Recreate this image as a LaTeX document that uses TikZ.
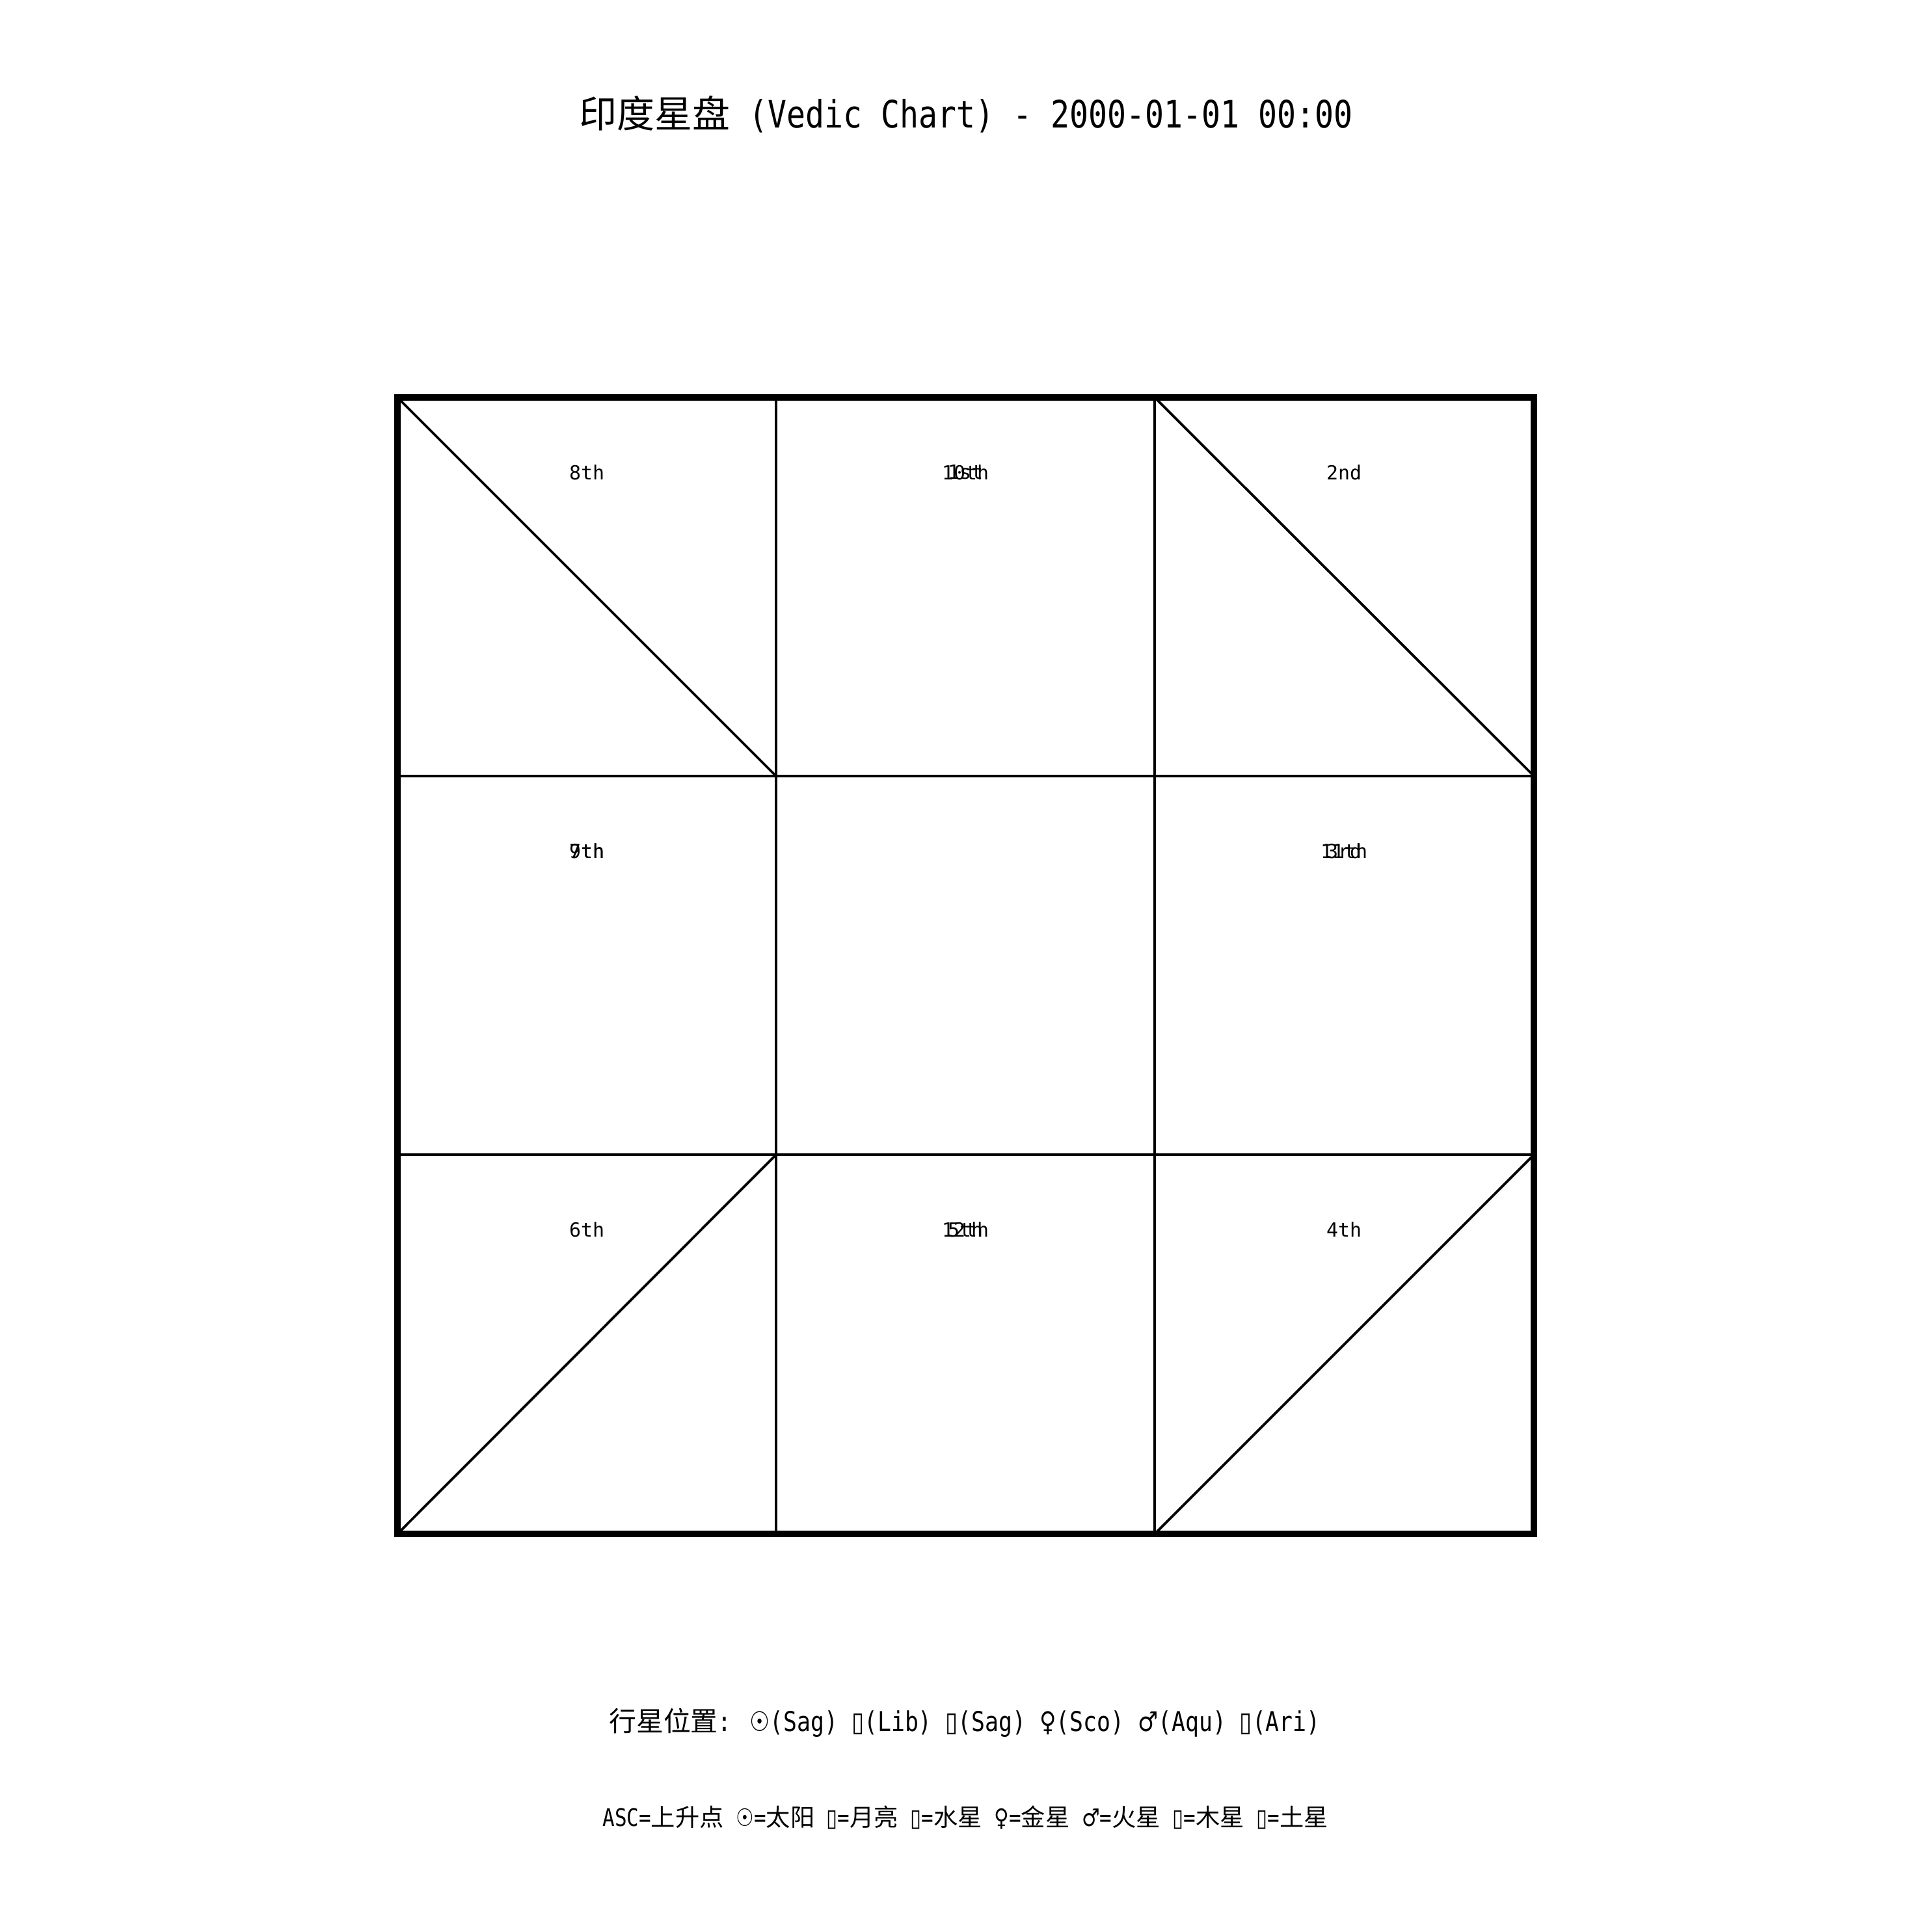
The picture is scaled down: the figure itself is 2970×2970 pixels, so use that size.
\documentclass[tikz,border=0pt]{standalone}
\usepackage{fontspec}
\setmainfont{DejaVu Sans Mono}
\newfontfamily\cjk{Noto Sans CJK SC}
\newfontfamily\lat[FakeStretch=0.83]{DejaVu Sans Mono}
\newfontfamily\hmono{DejaVu Sans Mono}
\newfontfamily\sym[FakeStretch=0.83]{DejaVu Sans}
\begin{document}
\begin{tikzpicture}[x=0.01cm,y=-0.01cm,
  outer/.style={line width=2.6pt},
  inner/.style={line width=1.1pt},
  hlabel/.style={font=\hmono\fontsize{8.5pt}{10pt}\selectfont, inner sep=0pt},
  ttl/.style={font=\fontsize{16.5pt}{20pt}\selectfont, inner sep=0pt},
  leg/.style={font=\fontsize{11.9pt}{14pt}\selectfont, inner sep=0pt},
  leg2/.style={font=\fontsize{10.6pt}{13pt}\selectfont, inner sep=0pt}]
\fill[white] (0,0) rectangle (2970,2970);
\useasboundingbox (0,0) rectangle (2970,2970);
% grid
\coordinate (A) at (611,611);
\coordinate (B) at (2358,2358);
\draw[inner] (1193,611) -- (1193,2358);
\draw[inner] (1775,611) -- (1775,2358);
\draw[inner] (611,1193) -- (2358,1193);
\draw[inner] (611,1775) -- (2358,1775);
% diagonals
\draw[inner] (611,611) -- (1193,1193);
\draw[inner] (1775,611) -- (2358,1193);
\draw[inner] (611,2358) -- (1193,1775);
\draw[inner] (1775,2358) -- (2358,1775);
\draw[outer] (A) rectangle (B);
% house labels
\node[hlabel] (h8) at (902,726) {8th};
\node[hlabel] (h1) at (1484,726) {1st};
\node[hlabel] (h10) at (1484,726) {10th};
\node[hlabel] (h2) at (2066,726) {2nd};
\node[hlabel] (h9) at (902,1308) {9th};
\node[hlabel] (h7) at (902,1308) {7th};
\node[hlabel] (h11) at (2066,1308) {11th};
\node[hlabel] (h3) at (2066,1308) {3rd};
\node[hlabel] (h6) at (902,1890) {6th};
\node[hlabel] (h12) at (1484,1890) {12th};
\node[hlabel] (h5) at (1484,1890) {5th};
\node[hlabel] (h4) at (2066,1890) {4th};
% title
\node[ttl] (title) at (1485,176) {{\cjk 印度星盘}{\lat\ (Vedic Chart) - 2000-01-01 00:00}};
% legend lines
\node[leg] (pos) at (1483,2648) {{\cjk 行星位置}{\lat: }{\sym ☉}{\lat(Sag) }{\sym ▯}{\lat(Lib) }{\sym ▯}{\lat(Sag) }{\sym ♀}{\lat(Sco) }{\sym ♂}{\lat(Aqu) }{\sym ▯}{\lat(Ari)}};
\node[leg2] (key) at (1484,2794) {{\lat ASC=}{\cjk 上升点}{\lat\ }{\sym ☉}{\lat=}{\cjk 太阳}{\lat\ }{\sym ▯}{\lat=}{\cjk 月亮}{\lat\ }{\sym ▯}{\lat=}{\cjk 水星}{\lat\ }{\sym ♀}{\lat=}{\cjk 金星}{\lat\ }{\sym ♂}{\lat=}{\cjk 火星}{\lat\ }{\sym ▯}{\lat=}{\cjk 木星}{\lat\ }{\sym ▯}{\lat=}{\cjk 土星}};
\end{tikzpicture}
\end{document}
